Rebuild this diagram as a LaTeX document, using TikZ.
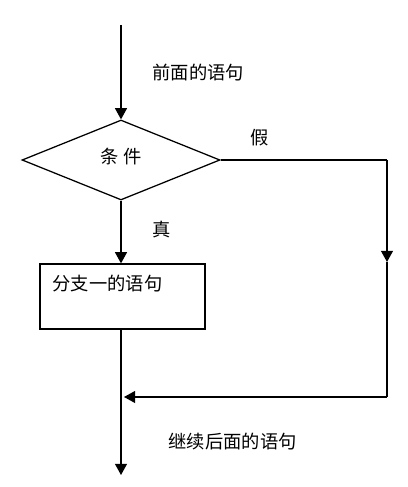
\documentclass[tikz,border=0pt]{standalone}
\usepackage{fontspec}
\usepackage{tikz}
\usetikzlibrary{shapes.geometric,arrows.meta}
\newfontfamily\cjk{Noto Sans CJK SC}

\begin{document}
\begin{tikzpicture}[line width=0.9pt,>={Triangle[length=0.28cm,width=0.3cm]},
        every node/.style={font=\cjk\fontsize{13}{15}\selectfont}]
        \useasboundingbox (0,0) rectangle (10.2,12.175);

        \coordinate (start) at (3.025,11.55);
        \node[shape=diamond,draw=black,minimum width=4.95cm,minimum height=2cm,inner sep=0pt,text depth=0.2cm] (cond) at (3.025,8.175) {条\ 件};
        \node[shape=rectangle,draw=black,minimum width=4.125cm,minimum height=1.625cm,inner sep=0pt] (branch) at (3.0625,4.7625) {};
        \node[anchor=west,inner sep=0pt] (btext) at (1.3,5.075) {分支一的语句};
        \coordinate (R1) at (9.675,8.175);
        \coordinate (Rmid) at (9.675,5.625);
        \coordinate (R2) at (9.675,2.25);
        \coordinate (J) at (3.025,2.25);
        \coordinate (Jtip) at (3.1,2.25);
        \coordinate (end) at (3.025,0.3);

        \node[anchor=west,inner sep=0pt] (before) at (3.8,10.35) {前面的语句};
        \node[inner sep=0pt] (no) at (6.5,8.725) {假};
        \node[anchor=west,inner sep=0pt] (yes) at (3.8,6.425) {真};
        \node[anchor=west,inner sep=0pt] (after) at (4.2,1.125) {继续后面的语句};

        \path [->](start) edge (cond.north);
        \path [->](cond.south) edge (branch.north -| cond.south);
        \path [-](cond.east) edge (R1);
        \path [->](R1) edge (Rmid);
        \path [-](Rmid) edge (R2);
        \path [->](R2) edge (Jtip);
        \path [->](branch.south -| J) edge (end);
    \end{tikzpicture}
\end{document}
